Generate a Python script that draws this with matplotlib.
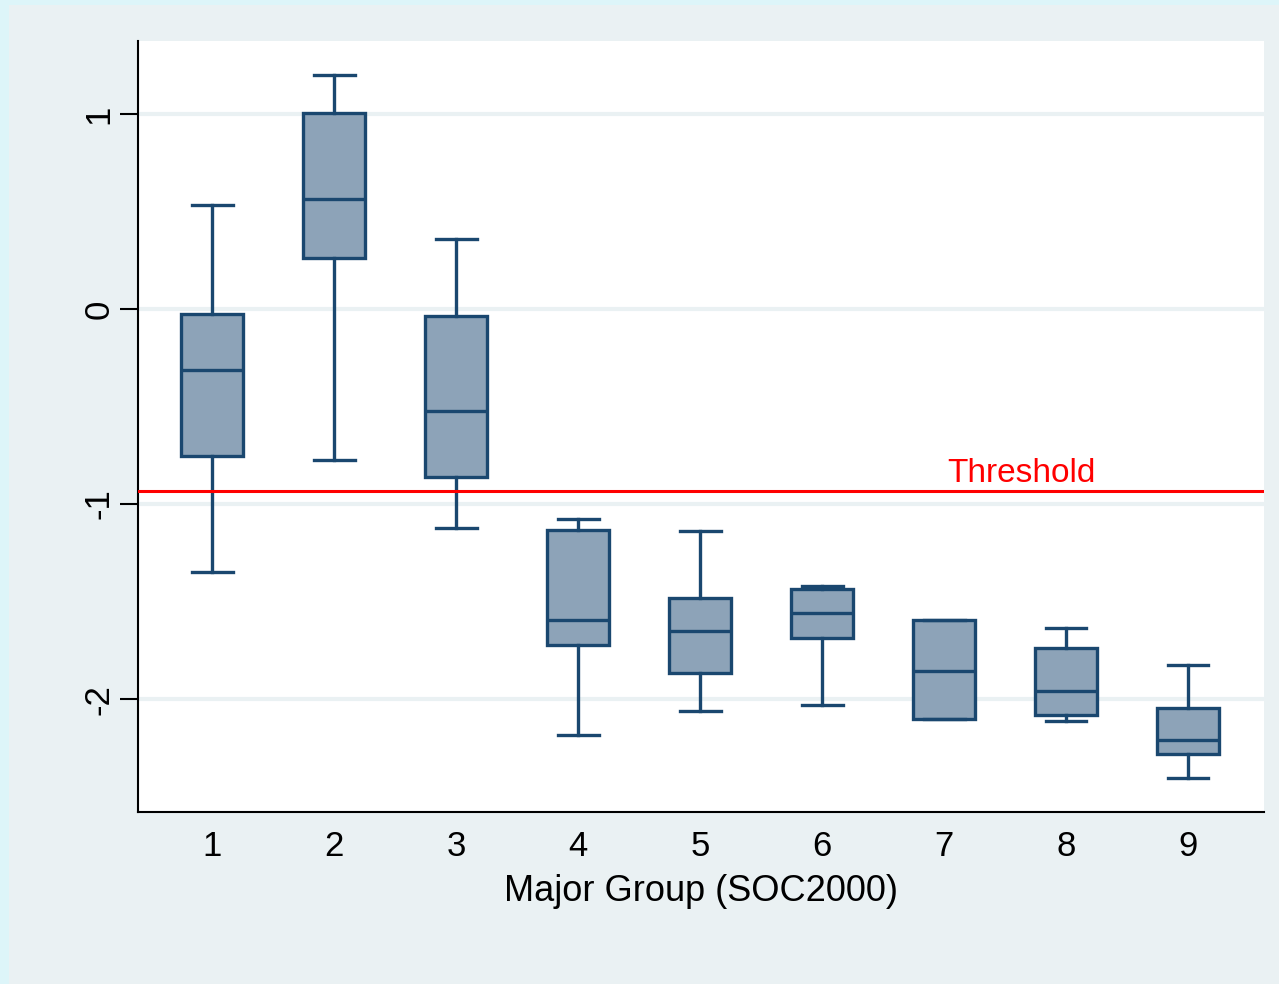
import matplotlib
matplotlib.use("Agg")
import matplotlib.pyplot as plt
from matplotlib.patches import Rectangle

plt.rcParams['font.family'] = ['Liberation Sans', 'DejaVu Sans']

groups = [1, 2, 3, 4, 5, 6, 7, 8, 9]
whislo = [-1.349, -0.774, -1.123, -2.185, -2.062, -2.031, -2.103, -2.113, -2.405]
q1     = [-0.754, 0.262, -0.862, -1.723, -1.867, -1.687, -2.103, -2.082, -2.282]
med    = [-0.313, 0.564, -0.523, -1.595, -1.651, -1.559, -1.856, -1.959, -2.210]
q3     = [-0.026, 1.005, -0.036, -1.133, -1.482, -1.436, -1.595, -1.738, -2.046]
whishi = [0.533, 1.200, 0.359, -1.077, -1.138, -1.421, -1.595, -1.636, -1.826]
threshold = -0.933
yticks = [-2, -1, 0, 1]
xlabel = "Major Group (SOC2000)"
threshold_label = "Threshold"

navy = "#1A476F"
fill = "#8DA3B8"
bg = "#EAF1F3"

fig = plt.figure(figsize=(12.79, 9.84), dpi=100)
fig.patch.set_facecolor(bg)
# light cyan border strips (left and top)
fig.patches.append(Rectangle((0, 0), 9/1279, 1, transform=fig.transFigure,
                             facecolor="#DDF5F9", edgecolor='none', zorder=-10))
fig.patches.append(Rectangle((0, 1 - 5/984), 1, 5/984, transform=fig.transFigure,
                             facecolor="#DDF5F9", edgecolor='none', zorder=-10))

ax = fig.add_axes([138/1279, 1 - 812/984, (1264-138)/1279, (812-41)/984])
ax.set_facecolor("white")

stats = []
for g, lo, a, m, b, hi in zip(groups, whislo, q1, med, q3, whishi):
    stats.append(dict(whislo=lo, q1=a, med=m, q3=b, whishi=hi, fliers=[], label=str(g)))

lw = 2.4
ax.bxp(stats, positions=groups, widths=0.508, patch_artist=True, showfliers=False,
       boxprops=dict(facecolor=fill, edgecolor=navy, linewidth=lw),
       medianprops=dict(color=navy, linewidth=lw),
       whiskerprops=dict(color=navy, linewidth=lw),
       capprops=dict(color=navy, linewidth=lw),
       capwidths=0.336, zorder=3)

ax.axhline(threshold, color="#FF0000", linewidth=2.2, zorder=4)
ax.text(7.03, threshold + 0.01, threshold_label, color="#FF0000", fontsize=24,
        ha='left', va='bottom', zorder=5)

ax.set_xlim(0.393, 9.623)
ax.set_ylim(-2.579, 1.374)
ax.set_yticks(yticks)
ax.set_yticklabels([str(t) for t in yticks], rotation=90, va='center', fontsize=25)
ax.set_xticks(groups)
ax.set_xticklabels([str(g) for g in groups], fontsize=25)
ax.tick_params(axis='x', length=0, pad=13)
ax.tick_params(axis='y', length=13, width=1.5, pad=3)
ax.yaxis.grid(True, color=bg, linewidth=3)
ax.set_axisbelow(True)
ax.set_xlabel(xlabel, fontsize=26, labelpad=8)

for s in ['top', 'right']:
    ax.spines[s].set_visible(False)
for s in ['left', 'bottom']:
    ax.spines[s].set_linewidth(1.5)
    ax.spines[s].set_color('black')

fig.savefig("out.png", dpi=100, facecolor=fig.get_facecolor())
